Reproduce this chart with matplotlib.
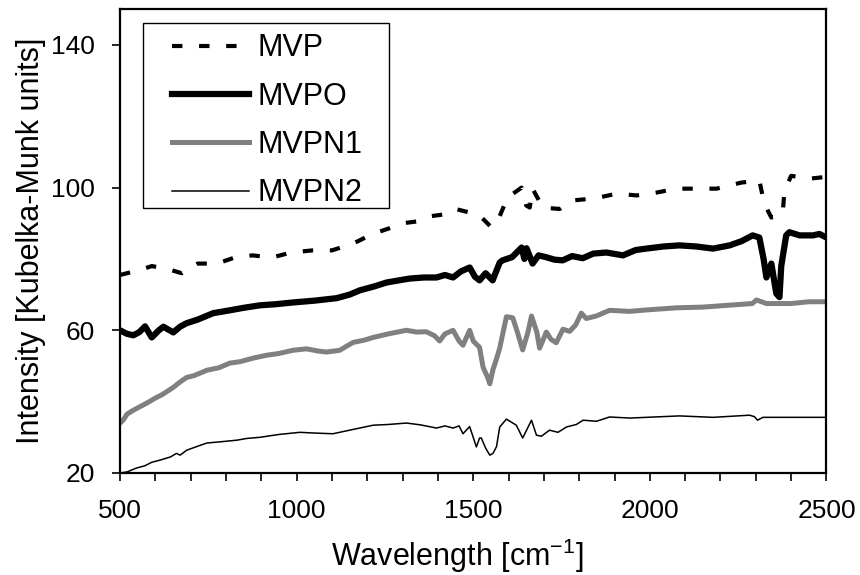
import matplotlib
matplotlib.use('Agg')
import matplotlib.pyplot as plt
from matplotlib.ticker import MultipleLocator
from matplotlib.patches import Rectangle

plt.rcParams['font.family'] = ['Liberation Sans', 'DejaVu Sans']
plt.rcParams['mathtext.fontset'] = 'custom'
plt.rcParams['mathtext.rm'] = 'Liberation Sans'
plt.rcParams['mathtext.default'] = 'regular'

# MVP (dashed)
mvp_x = [500, 520, 560, 590, 630, 675, 720, 775, 825, 875, 930, 985, 1045, 1100,
         1160, 1215, 1260, 1300, 1340, 1380, 1420, 1450, 1490, 1518, 1552, 1575,
         1597, 1637, 1650, 1660, 1668, 1697, 1745, 1782, 1846, 1906, 1962, 2019,
         2076, 2132, 2189, 2259, 2310, 2324, 2344, 2360, 2376, 2381, 2400, 2452, 2500]
mvp_y = [75.5, 76, 77, 78, 77.3, 76, 78.7, 78.7, 80.4, 81, 80.4, 81.8, 82.4, 82.4,
         84.3, 87, 88.5, 90, 90.5, 92, 92.5, 94, 93, 92.2, 88.8, 92,
         97.2, 100, 95, 94.4, 99.7, 94.4, 94, 96.4, 97, 98.3, 97.8, 98.6,
         99.7, 99.7, 99.7, 101.4, 102, 95.5, 91.6, 92, 92.7, 99, 103.3, 102.5, 103]

# MVPO (thick black)
mvpo_x = [500, 520, 538, 555, 571, 590, 610, 623, 651, 670, 689, 720, 764, 811, 850,
          896, 940, 990, 1050, 1113, 1150, 1179, 1220, 1255, 1290, 1320, 1360, 1396,
          1420, 1443, 1465, 1490, 1505, 1518, 1535, 1555, 1575, 1583, 1610, 1637,
          1645, 1651, 1668, 1685, 1706, 1730, 1753, 1780, 1810, 1840, 1877, 1924,
          1960, 1990, 2040, 2084, 2130, 2179, 2226, 2260, 2291, 2310, 2322, 2330,
          2344, 2358, 2367, 2372, 2386, 2395, 2424, 2462, 2480, 2500]
mvpo_y = [60, 59, 58.6, 59.5, 61.1, 58, 60, 61, 59.4, 61, 62, 63, 64.8, 65.6, 66.3,
          67, 67.3, 67.8, 68.3, 69, 70, 71.2, 72.3, 73.4, 74, 74.5, 74.8, 74.8,
          75.5, 74.8, 76.5, 77.6, 75, 74, 76, 74, 79, 79.6, 80.5, 83.2,
          80, 83, 78.7, 81, 80.5, 79.8, 79.6, 80.8, 80.2, 81.5, 81.8, 81,
          82.5, 82.9, 83.5, 83.8, 83.5, 82.9, 83.8, 85, 86.6, 86, 80, 74.8,
          78.7, 70.3, 69.3, 78, 86.6, 87.5, 86.6, 86.6, 87, 86]

# MVPN1 (thick grey)
mvpn1_x = [500, 509, 520, 538, 555, 576, 600, 620, 651, 670, 689, 710, 746, 780, 811,
           840, 877, 915, 950, 990, 1028, 1060, 1085, 1122, 1160, 1190, 1217, 1260,
           1311, 1340, 1367, 1390, 1405, 1420, 1443, 1460, 1471, 1490, 1500, 1518,
           1528, 1540, 1547, 1556, 1566, 1575, 1594, 1612, 1625, 1640, 1655, 1665,
           1680, 1688, 1707, 1720, 1735, 1754, 1773, 1790, 1806, 1820, 1848, 1886,
           1943, 1990, 2076, 2150, 2220, 2290, 2302, 2330, 2400, 2450, 2500]
mvpn1_y = [34, 34.8, 36.5, 37.6, 38.5, 39.6, 41, 42, 44, 45.5, 46.8, 47.3, 48.8, 49.5, 50.8,
           51.2, 52.2, 53, 53.5, 54.4, 54.8, 54.2, 53.9, 54.4, 56.6, 57.2, 58, 59,
           60, 59.5, 59.6, 58.5, 57, 59, 60, 57, 55.8, 60, 57, 55.2,
           49.6, 47, 45, 49, 52, 55, 63.8, 63.5, 59.5, 54.5, 59.5, 64,
           59.5, 55, 59.5, 57.5, 56.5, 60.3, 59.7, 61.5, 64.8, 63.3, 64, 65.6,
           65.3, 65.7, 66.3, 66.5, 67, 67.5, 68.5, 67.5, 67.5, 68, 68]

# MVPN2 (thin black)
mvpn2_x = [500, 520, 547, 570, 590, 613, 643, 660, 670, 689, 720, 746, 790, 831, 860,
           896, 950, 1009, 1050, 1103, 1150, 1217, 1260, 1311, 1350, 1396, 1420, 1443,
           1460, 1471, 1490, 1509, 1518, 1523, 1535, 1547, 1556, 1566, 1575, 1594,
           1622, 1640, 1665, 1679, 1693, 1716, 1740, 1764, 1792, 1811, 1849, 1886,
           1943, 1990, 2084, 2179, 2282, 2296, 2305, 2320, 2400, 2500]
mvpn2_y = [20, 20.3, 21.4, 22, 23, 23.6, 24.5, 25.5, 25, 26.4, 27.5, 28.4, 28.8, 29.2, 29.7,
           30, 30.8, 31.4, 31.2, 31, 32, 33.4, 33.6, 34, 33.5, 32.6, 33.2, 32.6,
           33.2, 31, 33, 27.3, 29.8, 29.8, 27, 25, 25.5, 27.4, 32.9, 35.1,
           33.4, 29.8, 34.8, 30.6, 30.3, 32, 31.4, 32.9, 33.6, 34.8, 34.5, 35.7,
           35.4, 35.6, 36, 35.6, 36.2, 35.8, 34.8, 35.6, 35.6, 35.6]

fig = plt.figure(figsize=(8.6, 5.75), dpi=100)
ax = fig.add_axes([0.1395, 0.1774, 0.8215, 0.8066])

ax.plot(mvp_x, mvp_y, color='black', lw=3, linestyle=(0, (2.5, 4)), label='MVP')
ax.plot(mvpo_x, mvpo_y, color='black', lw=4.5, solid_joinstyle='round', label='MVPO')
ax.plot(mvpn1_x, mvpn1_y, color='#808080', lw=3.6, label='MVPN1')
ax.plot(mvpn2_x, mvpn2_y, color='black', lw=1.1, label='MVPN2')

ax.set_xlim(500, 2500)
ax.set_ylim(20, 150)
ax.xaxis.set_major_locator(MultipleLocator(500))
ax.xaxis.set_minor_locator(MultipleLocator(100))
ax.set_yticks([20, 60, 100, 140])

ax.tick_params(axis='both', which='both', direction='out', length=6, width=1.2,
               labelsize=19, colors='black')
ax.tick_params(axis='x', pad=13)
ax.tick_params(axis='y', pad=12)
for side in ax.spines.values():
    side.set_linewidth(1.6)

ax.set_xlabel('Wavelength [cm$^{-1}$]', fontsize=22)
ax.xaxis.set_label_coords(0.478, -0.137)
ax.set_ylabel('Intensity [Kubelka-Munk units]', fontsize=22, labelpad=4)

# legend box drawn separately (wider side padding than legend frame allows)
ax.add_patch(Rectangle((0.0326, 0.571), 0.3482, 0.399, transform=ax.transAxes,
                       facecolor='white', edgecolor='black', lw=1, zorder=4))
leg = ax.legend(loc='upper left', bbox_to_anchor=(0.073, 0.948), fontsize=22,
                frameon=False, handlelength=2.55, handletextpad=0.26,
                labelspacing=0.6, borderpad=0, borderaxespad=0)
leg.set_zorder(5)

fig.savefig('out.png', dpi=100)
